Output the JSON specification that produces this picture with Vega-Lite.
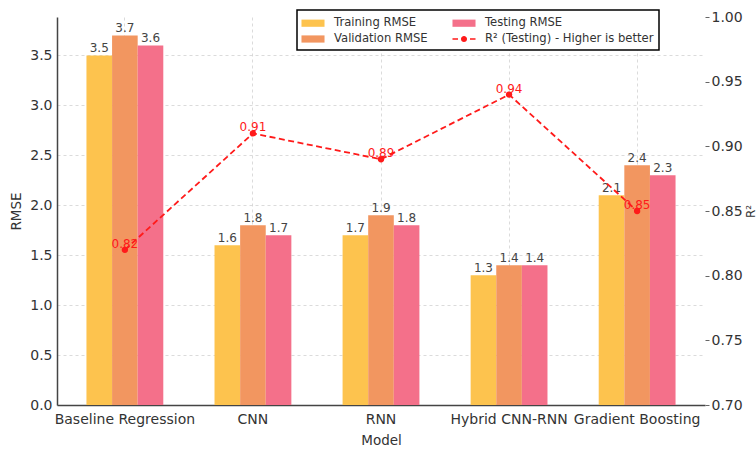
{
  "$schema": "https://vega.github.io/schema/vega-lite/v6.json",
  "width": 648,
  "height": 388,
  "autosize": {"type": "none"},
  "padding": {"left": 57, "top": 17, "right": 51, "bottom": 45},
  "background": "white",
  "datasets": {
    "rmse": [
      {"model": "Baseline Regression", "series": "Training RMSE", "rmse": 3.5},
      {"model": "Baseline Regression", "series": "Validation RMSE", "rmse": 3.7},
      {"model": "Baseline Regression", "series": "Testing RMSE", "rmse": 3.6},
      {"model": "CNN", "series": "Training RMSE", "rmse": 1.6},
      {"model": "CNN", "series": "Validation RMSE", "rmse": 1.8},
      {"model": "CNN", "series": "Testing RMSE", "rmse": 1.7},
      {"model": "RNN", "series": "Training RMSE", "rmse": 1.7},
      {"model": "RNN", "series": "Validation RMSE", "rmse": 1.9},
      {"model": "RNN", "series": "Testing RMSE", "rmse": 1.8},
      {"model": "Hybrid CNN-RNN", "series": "Training RMSE", "rmse": 1.3},
      {"model": "Hybrid CNN-RNN", "series": "Validation RMSE", "rmse": 1.4},
      {"model": "Hybrid CNN-RNN", "series": "Testing RMSE", "rmse": 1.4},
      {"model": "Gradient Boosting", "series": "Training RMSE", "rmse": 2.1},
      {"model": "Gradient Boosting", "series": "Validation RMSE", "rmse": 2.4},
      {"model": "Gradient Boosting", "series": "Testing RMSE", "rmse": 2.3}
    ],
    "r2": [
      {"model": "Baseline Regression", "r2": 0.82},
      {"model": "CNN", "r2": 0.91},
      {"model": "RNN", "r2": 0.89},
      {"model": "Hybrid CNN-RNN", "r2": 0.94},
      {"model": "Gradient Boosting", "r2": 0.85}
    ]
  },
  "layer": [
    {
      "data": {"name": "rmse"},
      "layer": [
        {
          "mark": {"type": "bar"},
          "encoding": {
            "x": {"field": "model", "type": "nominal", "title": "Model",
              "scale": {"type": "band", "domain": ["Baseline Regression", "CNN", "RNN", "Hybrid CNN-RNN", "Gradient Boosting"], "paddingInner": 0, "paddingOuter": 0.03}},
            "xOffset": {"field": "series", "type": "nominal",
              "scale": {"domain": ["Training RMSE", "Validation RMSE", "Testing RMSE"], "paddingInner": 0, "paddingOuter": 1}},
            "y": {"field": "rmse", "type": "quantitative", "title": "RMSE",
              "scale": {"domain": [0, 3.885], "nice": false, "zero": true},
              "axis": {"values": [0, 0.5, 1, 1.5, 2, 2.5, 3, 3.5], "format": ".1f"}},
            "color": {"field": "series", "type": "nominal",
              "scale": {"domain": ["Training RMSE", "Validation RMSE", "Testing RMSE", "R² (Testing) - Higher is better"],
                        "range": ["#FDC34E", "#F29660", "#F4708A", "#FF1A1A"]},
              "legend": {
                "title": null, "orient": "none", "legendX": 240, "legendY": -7, "columns": 2,
                "labelFont": "DejaVu Sans", "labelFontSize": 11.6, "labelColor": "#333", "labelLimit": 400,
                "symbolSize": 256, "symbolOffset": 3, "labelOffset": 13, "columnPadding": 24, "rowPadding": 2,
                "padding": 5, "strokeColor": "black", "fillColor": "white",
                "encode": {
                  "legend": {"update": {"strokeWidth": {"value": 1.5}}},
                  "symbols": {"update": {
                    "shape": {"signal": "datum.value == 'R² (Testing) - Higher is better' ? 'M-1.44,-0.1H-0.75V0.1H-1.44Z M0.75,-0.1H1.44V0.1H0.75Z M-0.38,0A0.38,0.38 0 1,0 0.38,0A0.38,0.38 0 1,0 -0.38,0Z' : 'M-1.44,-0.45H1.44V0.45H-1.44Z'"},
                    "fill": {"signal": "scale('color', datum.value)"},
                    "stroke": {"value": "transparent"},
                    "strokeWidth": {"value": 0},
                    "opacity": {"value": 1},
                    "fillOpacity": {"value": 1}
                  }}
                }
              }}
          }
        },
        {
          "mark": {"type": "text", "baseline": "alphabetic", "dy": -3, "fontSize": 12, "font": "DejaVu Sans", "color": "#444"},
          "encoding": {
            "x": {"field": "model", "type": "nominal", "title": "Model"},
            "xOffset": {"field": "series", "type": "nominal"},
            "y": {"field": "rmse", "type": "quantitative", "title": "RMSE"},
            "text": {"field": "rmse", "type": "quantitative", "format": ".1f"}
          }
        }
      ]
    },
    {
      "data": {"name": "r2"},
      "layer": [
        {
          "mark": {"type": "line", "strokeDash": [6, 3.5], "strokeWidth": 1.8},
          "encoding": {
            "x": {"field": "model", "type": "nominal", "title": "Model"},
            "y": {"field": "r2", "type": "quantitative", "title": "R²",
              "scale": {"domain": [0.7, 1.0], "nice": false, "zero": false},
              "axis": {"orient": "right", "values": [0.7, 0.75, 0.8, 0.85, 0.9, 0.95, 1.0], "format": ".2f", "titleX": 45, "titleY": 194, "titleAlign": "center", "titleBaseline": "middle", "titleAngle": 270, "titleFontSize": 12}},
            "color": {"datum": "R² (Testing) - Higher is better", "type": "nominal"}
          }
        },
        {
          "mark": {"type": "point", "filled": true, "size": 40, "color": "#FF1A1A", "opacity": 1},
          "encoding": {
            "x": {"field": "model", "type": "nominal", "title": "Model"},
            "y": {"field": "r2", "type": "quantitative", "title": "R²"}
          }
        },
        {
          "mark": {"type": "text", "baseline": "alphabetic", "dy": -2, "fontSize": 12, "font": "DejaVu Sans", "color": "#FF1A1A"},
          "encoding": {
            "x": {"field": "model", "type": "nominal", "title": "Model"},
            "y": {"field": "r2", "type": "quantitative", "title": "R²"},
            "text": {"field": "r2", "type": "quantitative", "format": ".2f"}
          }
        }
      ]
    }
  ],
  "resolve": {"scale": {"y": "independent"}},
  "config": {
    "font": "DejaVu Sans",
    "view": {"stroke": null},
    "axis": {
      "labelFont": "DejaVu Sans", "labelFontSize": 14, "labelColor": "#333",
      "titleFont": "DejaVu Sans", "titleFontSize": 13.5, "titleFontWeight": "normal", "titleColor": "#333",
      "grid": true, "gridDash": [3, 3], "gridColor": "#d2d2d2", "gridWidth": 0.8,
      "domainColor": "#444", "tickColor": "#666"
    },
    "axisBottom": {"bandPosition": 0.5, "ticks": false, "labelPadding": 7, "titlePadding": 7, "labelAngle": 0, "domainWidth": 1.5},
    "axisLeft": {"ticks": false, "labelPadding": 5, "titlePadding": 6, "domainWidth": 1.5},
    "axisRight": {"domain": false, "tickSize": 4, "labelPadding": 2}
  }
}
